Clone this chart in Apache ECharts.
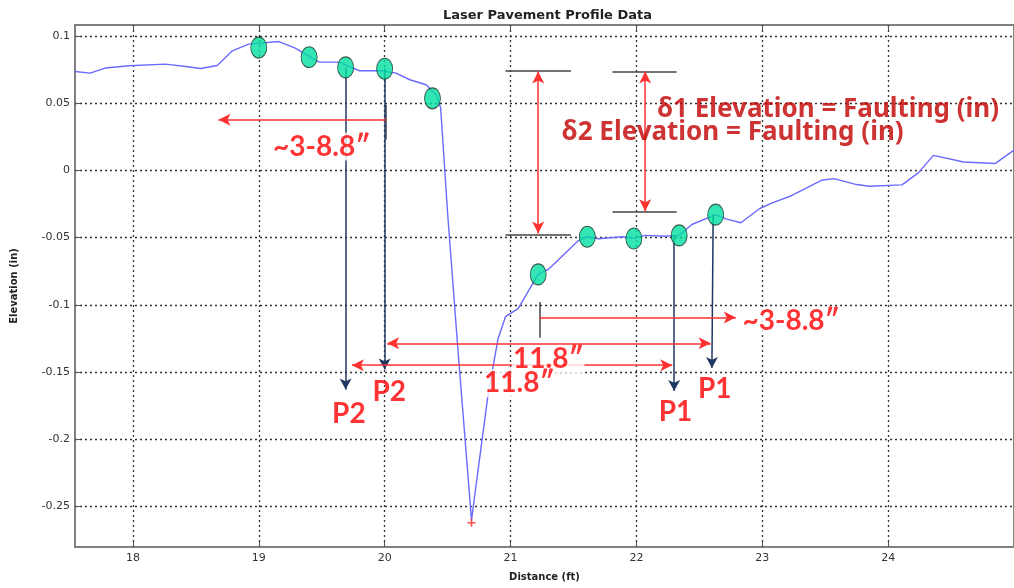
<!DOCTYPE html>
<html>
<head>
<meta charset="utf-8">
<title>Laser Pavement Profile Data</title>
<script src="https://cdn.jsdelivr.net/npm/echarts@6/dist/echarts.min.js"></script>
<style>
html, body { margin: 0; padding: 0; background: #fff; }
#app { width: 1014px; height: 588px; }
</style>
</head>
<body>
<div id="app"></div>
<script>
// profile (ft, in)
var distance = [17.54, 17.66, 17.78, 17.97, 18.26, 18.42, 18.54, 18.67, 18.79, 18.92,
    19.16, 19.29, 19.41, 19.48, 19.64, 19.72, 19.80, 19.97, 20.09, 20.20,
    20.33, 20.41, 20.445, 20.50, 20.58, 20.69, 20.82, 20.90, 20.96, 21.06,
    21.22, 21.30, 21.54, 21.61, 21.70, 21.89, 21.98, 22.07, 22.23, 22.34,
    22.44, 22.63, 22.71, 22.83, 22.98, 23.08, 23.22, 23.47, 23.57, 23.75,
    23.85, 24.11, 24.24, 24.36, 24.60, 24.85, 25.00];
var elevation = [0.0734, 0.0722, 0.0760, 0.0777, 0.0789, 0.0772, 0.0757, 0.0779, 0.0888, 0.0938,
    0.0957, 0.0908, 0.0841, 0.0804, 0.0804, 0.0770, 0.0740, 0.0740, 0.0722, 0.0673,
    0.0636, 0.0560, 0.0463, -0.0316, -0.1306, -0.2600, -0.1677, -0.1256, -0.1088, -0.1028,
    -0.0774, -0.0737, -0.0522, -0.0494, -0.0509, -0.0494, -0.0505, -0.0484, -0.0490, -0.0484,
    -0.0403, -0.0329, -0.0361, -0.0390, -0.0284, -0.0242, -0.0193, -0.0074, -0.0062, -0.0106,
    -0.0119, -0.0108, -0.0019, 0.0111, 0.0062, 0.0050, 0.0150];

// green sensor points
var sensorX = [19.00, 19.40, 19.69, 20.00, 20.38, 21.22, 21.61, 21.98, 22.34, 22.63];
var sensorY = [0.0912, 0.0840, 0.0765, 0.0755, 0.0535, -0.0774, -0.0494, -0.0507, -0.0484, -0.0330];
var lowest = [20.69, -0.262];

var xTicks = [18, 19, 20, 21, 22, 23, 24];
var yTicks = [-0.25, -0.2, -0.15, -0.1, -0.05, 0, 0.05, 0.1];

// annotation segments [x1, y1, x2, y2]
var pointerArrows = [[19.69, 0.0765, 19.69, -0.163], [20.00, 0.0755, 20.00, -0.148],
    [22.30, -0.0484, 22.30, -0.164], [22.61, -0.0330, 22.60, -0.147]];
var spanArrows = [[20.02, -0.1286, 22.59, -0.1286], [19.74, -0.1449, 22.285, -0.1449],
    [21.22, 0.0735, 21.22, -0.0470], [22.07, 0.0735, 22.07, -0.0305]];
var reachArrows = [[20.01, 0.0376, 18.68, 0.0376], [21.23, -0.1095, 22.79, -0.1095]];
var guideTicks = [[20.01, 0.0487, 20.01, 0.0228], [21.23, -0.0979, 21.23, -0.1245],
    [20.96, 0.0740, 21.48, 0.0740], [21.81, 0.0732, 22.32, 0.0732],
    [20.96, -0.0479, 21.48, -0.0479], [21.81, -0.0309, 22.32, -0.0309]];

// labels [text, x, y]
var measureLabels = [['~3-8.8″', 19.50, 0.0176], ['11.8″', 21.30, -0.1404], ['11.8″', 21.07, -0.1582]];
var measureLabelsLeft = [['~3-8.8″', 22.835, -0.1120]];
var pointLabels = [['P2', 19.716, -0.1813], ['P2', 20.036, -0.1649], ['P1', 22.311, -0.1795], ['P1', 22.622, -0.1627]];
var faultLabels = [['δ1 Elevation = Faulting (in)', 22.166, 0.0450], ['δ2 Elevation = Faulting (in)', 21.408, 0.0277]];

window.onload = function() {
    var myChart = echarts.init(document.getElementById('app'));

    function zip(xs, ys) {
        var out = [];
        for (var i = 0; i < xs.length; i++) out.push([xs[i], ys[i]]);
        return out;
    }
    function segs(list) {
        return list.map(function(s) {
            return [{ coord: [s[0], s[1]] }, { coord: [s[2], s[3]] }];
        });
    }
    function textSeries(list, label) {
        return {
            type: 'scatter',
            data: list.map(function(t) {
                return { value: [t[1], t[2]], name: t[0] };
            }),
            symbolSize: 0,
            silent: true,
            z: 10,
            label: Object.assign({
                show: true,
                formatter: function(p) { return p.name; },
                fontFamily: 'Lato',
                fontWeight: 'bold'
            }, label)
        };
    }
    function segSeries(list, style, symbols, size) {
        return {
            type: 'line',
            data: [],
            z: 6,
            markLine: {
                silent: true,
                animation: false,
                symbol: symbols,
                symbolSize: size,
                label: { show: false },
                lineStyle: style,
                emphasis: { disabled: true },
                data: segs(list)
            }
        };
    }

    var tickFont = { fontFamily: 'DejaVu Sans', fontSize: 11, color: '#333' };
    var nameFont = { fontFamily: 'DejaVu Sans', fontSize: 10, fontWeight: 'bold', color: '#222' };
    var dotted = { show: true, lineStyle: { color: '#333', type: [2, 3], width: 1.3 } };

    var option = {
        backgroundColor: '#fff',
        animation: false,
        title: {
            text: 'Laser Pavement Profile Data',
            left: 438,
            top: 4,
            textStyle: { fontFamily: 'DejaVu Sans', fontSize: 13, fontWeight: 'bold', color: '#222' }
        },
        grid: {
            left: 75, right: 0, top: 25, bottom: 41,
            show: true,
            borderColor: '#808080',
            borderWidth: 2
        },
        xAxis: [{
            type: 'value',
            min: 17.54,
            max: 25,
            name: 'Distance (ft)',
            nameLocation: 'middle',
            nameGap: 25,
            nameTextStyle: nameFont,
            axisLine: { show: true, onZero: false, lineStyle: { color: '#808080', width: 2 } },
            axisTick: { show: true, inside: true, length: 5, customValues: xTicks, lineStyle: { color: '#555' } },
            axisLabel: Object.assign({ customValues: xTicks, margin: 6 }, tickFont),
            splitLine: dotted
        }, {
            type: 'value',
            position: 'top',
            min: 17.54,
            max: 25,
            axisLine: { show: false, onZero: false },
            axisTick: { show: true, inside: true, length: 5, customValues: xTicks, lineStyle: { color: '#555' } },
            axisLabel: { show: false, customValues: xTicks },
            splitLine: { show: false }
        }],
        yAxis: {
            type: 'value',
            min: -0.28,
            max: 0.108,
            name: 'Elevation (in)',
            nameLocation: 'middle',
            nameGap: 56,
            nameRotate: 90,
            nameTextStyle: nameFont,
            axisLine: { show: true, onZero: false, lineStyle: { color: '#808080', width: 2 } },
            axisTick: { show: true, inside: true, length: 5, customValues: yTicks, lineStyle: { color: '#555' } },
            axisLabel: Object.assign({ customValues: yTicks, margin: 5 }, tickFont),
            splitLine: dotted
        },
        series: [{
            name: 'profile',
            type: 'line',
            data: zip(distance, elevation),
            showSymbol: false,
            z: 3,
            lineStyle: { color: '#6a6aff', width: 1.4 }
        }, {
            name: 'lowest',
            type: 'scatter',
            data: [lowest],
            symbol: 'path://M4,0H6V4H10V6H6V10H4V6H0V4H4Z',
            symbolSize: 8,
            itemStyle: { color: '#ff2020' },
            z: 4
        }, {
            name: 'sensors',
            type: 'scatter',
            data: zip(sensorX, sensorY),
            symbol: 'circle',
            symbolSize: [16, 21],
            itemStyle: { color: '#00e0a0', borderColor: '#1c3a2c', borderWidth: 1 },
            z: 5
        },
        segSeries(guideTicks, { color: '#444', width: 1.5, type: 'solid' }, ['none', 'none'], 0),
        segSeries(pointerArrows, { color: '#1f3864', width: 1.5, type: 'solid' }, ['none', 'arrow'], [9, 11]),
        segSeries(spanArrows, { color: '#ff3030', width: 1.5, type: 'solid' }, ['arrow', 'arrow'], [9, 12]),
        segSeries(reachArrows, { color: '#ff3030', width: 1.5, type: 'solid' }, ['none', 'arrow'], [9, 12]),
        textSeries(measureLabels, { position: 'inside', fontSize: 28, color: '#ff0000', backgroundColor: '#fff', padding: [0, 1] }),
        textSeries(measureLabelsLeft, { position: 'right', distance: 0, fontSize: 28, color: '#ff0000', backgroundColor: '#fff', padding: [0, 1] }),
        textSeries(pointLabels, { position: 'inside', fontSize: 28, color: '#ff0000' }),
        textSeries(faultLabels, { position: 'right', distance: 0, fontSize: 26, fontFamily: 'Noto Sans', color: '#c00000' })
        ]
    };
    myChart.setOption(option);
};
</script>
</body>
</html>
